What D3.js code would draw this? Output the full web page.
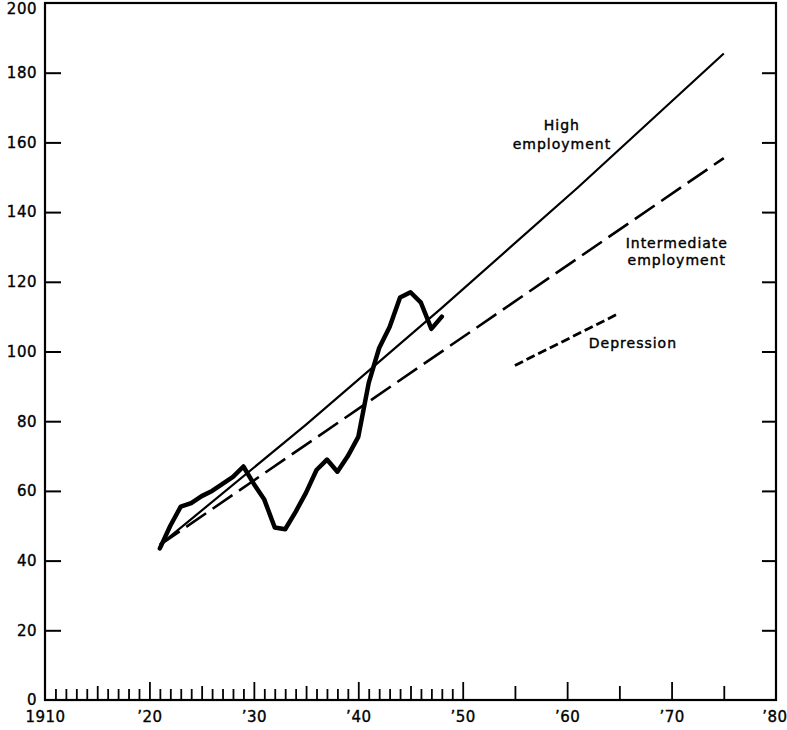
<!DOCTYPE html>
<html><head><meta charset="utf-8">
<script src="https://cdn.jsdelivr.net/npm/d3@7"></script>
<style>
body{margin:0;background:#fff;}
svg{display:block;}
text{font-family:"DejaVu Sans",sans-serif;fill:#000;}
</style></head>
<body>
<svg id="c" width="787" height="730"></svg>
<script>
// Data
const actualYears = [1921,1922,1923,1924,1925,1926,1927,1928,1929,1930,1931,1932,1933,1934,1935,1936,1937,1938,1939,1940,1941,1942,1943,1944,1945,1946,1947,1948];
const actualValues = [43.5,50,55.5,56.5,58.5,60,62,64,67,62,57.5,49.5,49,54,59.5,66,69,65.5,70,75.5,91,101,107,115.5,117,114,106.5,110];
const highYears = [1921,1935,1948,1961,1975];
const highValues = [44.5,79,112.5,147,185.5];
const interYears = [1921,1975];
const interValues = [44.5,155.5];
const depYears = [1955,1965];
const depValues = [96,111];
const yTicks = [0,20,40,60,80,100,120,140,160,180,200];
const xLabelYears = [1910,1920,1930,1940,1950,1960,1970,1980];
const xLabels = ["1910","\u201920","\u201930","\u201940","\u201950","\u201960","\u201970","\u201980"];

const svg = d3.select("#c");
const x = d3.scaleLinear().domain([1910,1980]).range([45,776]);
const y = d3.scaleLinear().domain([0,200]).range([700,3]);

// frame
svg.append("rect").attr("x",x(1910)).attr("y",y(200)).attr("width",x(1980)-x(1910)).attr("height",y(0)-y(200))
  .attr("fill","none").attr("stroke","#000").attr("stroke-width",2.2);

// x ticks (pointing up, inside)
const minor = d3.range(1911,1950).filter(d=>d%5!==0);
const mid = d3.range(1915,1980,10);
const major = d3.range(1920,1980,10);
function tickAxis(vals,len){
  const g = svg.append("g").attr("transform",`translate(0,${y(0)})`)
    .call(d3.axisBottom(x).tickValues(vals).tickSize(-len).tickFormat(""));
  g.select(".domain").remove();
  g.selectAll("line").attr("stroke","#000").attr("stroke-width",1.8);
}
tickAxis(minor,11);
tickAxis(mid,14);
tickAxis(major,18);

// x labels
const xl = svg.append("g").attr("transform",`translate(0,${y(0)})`)
  .call(d3.axisBottom(x).tickValues(xLabelYears).tickSize(0).tickPadding(11).tickFormat((d,i)=>xLabels[i]));
xl.select(".domain").remove();
xl.selectAll("text").attr("font-size",15).attr("letter-spacing",0.5).attr("font-family","DejaVu Sans")
  .attr("stroke","#000").attr("stroke-width",0.35);
xl.selectAll(".tick").filter(d=>d===1980).select("text").attr("text-anchor","end").attr("dx",11);

// y axis left
const yl = svg.append("g").attr("transform",`translate(${x(1910)},0)`)
  .call(d3.axisLeft(y).tickValues(yTicks).tickSize(-16).tickPadding(8));
yl.select(".domain").remove();
yl.selectAll("line").attr("stroke","#000").attr("stroke-width",2);
yl.selectAll("line").filter(d=>d===0||d===200).remove();
yl.selectAll("text").attr("font-size",15).attr("letter-spacing",0.5).attr("font-family","DejaVu Sans")
  .attr("stroke","#000").attr("stroke-width",0.35);
yl.selectAll(".tick").filter(d=>d===200).select("text").attr("dy","0.72em");

// y axis right
const yr = svg.append("g").attr("transform",`translate(${x(1980)},0)`)
  .call(d3.axisRight(y).tickValues(yTicks.filter(d=>d>0&&d<200)).tickSize(-14).tickFormat(""));
yr.select(".domain").remove();
yr.selectAll("line").attr("stroke","#000").attr("stroke-width",2);

const line = d3.line().x(d=>x(d[0])).y(d=>y(d[1]));
const zip = (a,b)=>a.map((v,i)=>[v,b[i]]);

svg.append("path").datum(zip(highYears,highValues)).attr("d",line)
  .attr("fill","none").attr("stroke","#000").attr("stroke-width",2.2);
svg.append("path").datum(zip(interYears,interValues)).attr("d",line)
  .attr("fill","none").attr("stroke","#000").attr("stroke-width",2.6).attr("stroke-dasharray","24,8");
svg.append("path").datum(zip(depYears,depValues)).attr("d",line)
  .attr("fill","none").attr("stroke","#000").attr("stroke-width",2.8).attr("stroke-dasharray","9,4");
svg.append("path").datum(zip(actualYears,actualValues)).attr("d",line)
  .attr("fill","none").attr("stroke","#000").attr("stroke-width",4.5)
  .attr("stroke-linejoin","round").attr("stroke-linecap","round");

// annotations
const notes = [
  {t:"High",yr:1959.5,v:163.7},
  {t:"employment",yr:1959.5,v:158.2},
  {t:"Intermediate",yr:1970.5,v:129.7},
  {t:"employment",yr:1970.5,v:124.8},
  {t:"Depression",yr:1966.3,v:101}
];
svg.selectAll("text.note").data(notes).enter().append("text").attr("class","note")
  .attr("x",d=>x(d.yr)).attr("y",d=>y(d.v)).attr("text-anchor","middle")
  .attr("font-size",14).attr("letter-spacing",1).attr("stroke","#000").attr("stroke-width",0.4)
  .text(d=>d.t);
</script>
</body></html>
